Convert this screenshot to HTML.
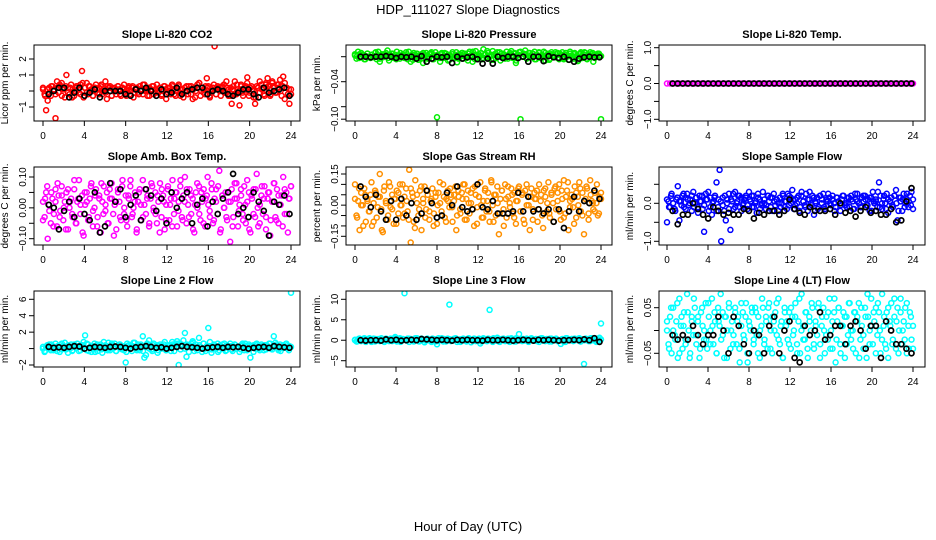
<!DOCTYPE html>
<html><head><meta charset="utf-8"><title>HDP_111027 Slope Diagnostics</title>
<style>html,body{margin:0;padding:0;background:#fff}svg{display:block;font-family:"Liberation Sans",sans-serif}</style>
</head><body>
<svg id="chart" width="936" height="540" viewBox="0 0 936 540" xmlns="http://www.w3.org/2000/svg">
<rect x="0" y="0" width="936" height="540" fill="#fff"/>
<text x="468" y="14" text-anchor="middle" font-size="13">HDP_111027  Slope Diagnostics</text>
<text x="468" y="531" text-anchor="middle" font-size="13">Hour of Day (UTC)</text>
</svg>
<script>
const xTicks=[0,4,8,12,16,20,24];
const co2Vals=[0.1,-0.2,-1.2,-0.6,0.2,-0.3,0.3,0.1,-1.7,0.6,-0.1,0.3,0.5,0.2,-0.4,1.0,0.2,-0.2,0.4,0.1,-0.3,0.2,0.3,-0.1,0.4,1.25,-0.4,0.2,0.5,-0.2,0.3,0.1,-0.3,0.2,0.4,-0.1,0.2,0.3,-0.2,0.1,0.6,-0.5,0.2,0.3,-0.3,0.1,0.2,-0.2,0.3,0.1,-0.3,0.2,0.4,-0.1,0.1,0.3,-0.2,0.2,-0.4,0.1,0.2,-0.1,0.3,0.1,-0.2,0.4,0.1,-0.3,0.2,0.0,0.3,-0.2,0.1,0.4,-0.1,0.2,-0.3,0.1,0.3,-0.5,0.2,0.0,-0.2,0.3,0.1,-0.3,0.2,0.4,-0.1,0.1,-0.4,0.2,0.3,-0.2,0.1,0.3,-0.5,0.2,0.0,0.4,0.5,-0.3,0.2,0.1,-0.2,0.8,0.3,-0.4,0.1,0.2,2.8,-0.2,0.3,0.1,-0.3,0.2,0.4,-0.1,0.2,0.1,-0.3,-0.8,0.3,0.6,-0.2,0.1,-0.9,0.4,-0.1,0.2,0.3,0.85,-0.3,0.2,0.1,-0.4,-0.8,0.3,0.2,-0.1,0.4,0.2,-0.3,0.5,0.8,0.1,-0.2,0.6,0.3,-0.1,0.4,0.2,0.7,-0.3,0.9,0.5,0.2,-0.2,-0.8,0.1];
const co2Vals2=[0.2,-0.3,0.1,-0.1,0.3,0.0,-0.2,0.2,0.4,-0.3,0.1,0.3,-0.1,0.2,-0.4,0.0,0.3,0.1,-0.2,0.5,0.2,-0.1,0.3,0.0,-0.3,0.2,0.1,-0.2,0.4,0.0,-0.1,0.3,0.2,-0.3,0.1,0.0,0.3,-0.2,0.2,0.1,-0.3,0.2,0.0,0.3,-0.1,0.2,-0.2,0.1,0.4,0.0,0.2,-0.3,0.1,0.3,-0.1,0.0,0.2,-0.2,0.3,0.1,-0.1,0.2,0.4,-0.2,0.0,0.3,-0.3,0.1,0.2,0.0,0.3,-0.2,0.1,-0.4,0.2,0.5,0.0,-0.1,0.3,0.2,-0.3,0.1,0.4,-0.2,0.2,0.0,0.3,-0.1,0.6,-0.3,0.2,0.1,-0.2,0.4,0.0,0.3,-0.3,0.2,0.5,-0.1,0.3,0.0,-0.4,0.2,0.6,0.1,-0.2,0.4,0.3,-0.3,0.5,0.2,-0.1,0.4,0.0,0.3,-0.5,0.2,0.1,-0.2];
const co2Black=[-0.2,0.0,0.2,0.2,-0.4,-0.1,0.2,-0.3,-0.1,0.1,-0.4,0.0,0.0,0.0,0.0,-0.2,-0.3,0.1,0.0,0.2,0.0,-0.3,0.1,-0.2,-0.1,0.2,-0.2,0.0,0.1,0.2,0.2,-0.2,0.0,0.1,0.0,-0.2,-0.3,-0.1,0.1,0.1,-0.2,-0.4,0.2,-0.1,0.0,0.1,0.2,-0.3];
const presVals=[0.002,-0.003,0.008,0.004,-0.001,0.003,-0.004,0.001,0.005,0.000,-0.002,0.003,0.001,0.006,-0.004,0.008,-0.008,0.002,-0.001,0.004,0.003,0.010,-0.006,0.001,0.005,-0.002,0.003,0.008,0.000,-0.003,0.002,0.004,-0.001,0.007,-0.004,0.001,-0.008,0.003,0.006,-0.002,0.002,-0.005,0.001,0.004,-0.010,0.003,0.006,-0.003,0.000,0.005,-0.004,0.002,0.007,-0.097,0.001,-0.008,0.004,-0.002,0.006,0.000,0.003,-0.005,0.001,0.007,-0.002,0.002,-0.009,0.004,0.000,0.006,-0.003,0.005,0.001,-0.006,0.008,0.002,-0.008,0.003,0.009,-0.002,0.004,0.001,-0.004,0.012,0.003,-0.001,0.006,0.002,-0.005,0.009,0.003,-0.002,0.007,0.001,-0.006,0.005,0.002,-0.003,0.008,0.001,0.004,0.009,-0.002,0.006,-0.010,0.003,0.007,-0.100,0.001,0.005,0.010,-0.003,0.002,0.006,-0.001,0.004,0.008,-0.004,0.002,0.006,-0.002,0.003,0.008,-0.006,0.001,0.005,-0.003,0.007,0.002,-0.001,0.004,0.006,-0.004,0.002,0.007,-0.002,0.003,0.000,-0.005,0.005,0.002,-0.003,0.006,0.001,-0.007,0.004,0.007,-0.002,0.003,0.006,-0.004,0.002,0.007,0.004,-0.008,0.003,0.001,0.005,0.002,-0.100];
const presVals2=[0.004,0.001,-0.002,0.006,0.002,-0.004,0.005,0.000,0.003,-0.001,0.007,0.002,-0.003,0.004,0.001,0.006,-0.002,0.003,0.005,0.000,-0.004,0.002,0.006,0.001,-0.002,0.004,0.008,0.000,-0.005,0.003,0.005,0.001,-0.003,0.006,0.002,-0.001,0.004,0.007,-0.004,0.002,0.003,-0.002,0.006,0.001,0.005,-0.006,0.002,0.004,0.000,0.007,-0.003,0.003,0.006,0.001,-0.002,0.005,0.002,0.008,-0.004,0.003,0.001,0.006,-0.002,0.004,0.009,0.000,0.003,-0.005,0.005,0.002,0.007,-0.001,0.004,0.001,-0.003,0.006,0.002,0.005,-0.006,0.003,0.008,0.000,0.004,-0.002,0.006,0.001,0.005,-0.004,0.003,0.007,0.002,-0.001,0.006,0.003,-0.005,0.004,0.001,0.007,-0.002,0.005,0.003,-0.004,0.006,0.002,0.008,-0.001,0.004,0.000,-0.006,0.005,0.002,0.007,-0.003,0.004,0.001,0.006,-0.002,0.003,0.005,0.001];
const presBlack=[0.000,0.000,-0.001,0.000,0.000,0.001,0.000,-0.002,0.000,-0.001,0.000,-0.003,0.001,-0.008,-0.003,0.000,-0.001,0.000,-0.010,0.000,-0.003,-0.001,0.000,-0.004,-0.011,-0.003,-0.011,0.000,-0.002,0.000,0.000,-0.002,0.000,-0.008,0.000,0.000,-0.007,0.001,-0.001,-0.002,0.000,-0.005,-0.008,-0.003,-0.001,0.000,-0.001,-0.001];
const tempVals=[0,0,0,0,0,0,0,0,0,0,0,0,0,0,0,0,0,0,0,0,0,0,0,0,0,0,0,0,0,0,0,0,0,0,0,0,0,0,0,0,0,0,0,0,0,0,0,0,0,0,0,0,0,0,0,0,0,0,0,0,0,0,0,0,0,0,0,0,0,0,0,0,0,0,0,0,0,0,0,0];
const tempVals2=[];
const tempBlack=[0,0,0,0,0,0,0,0,0,0,0,0,0,0,0,0,0,0,0,0,0,0,0,0,0,0,0,0,0,0,0,0,0,0,0,0,0,0,0,0,0,0,0,0,0,0,0,0];
const ambVals=[0.02,-0.03,0.05,-0.10,0.01,-0.05,0.03,-0.02,0.06,-0.06,0.04,-0.01,0.07,-0.04,0.02,0.05,-0.07,0.00,0.03,-0.03,0.06,-0.05,0.02,0.09,-0.02,0.04,-0.09,0.01,0.05,-0.04,0.03,0.08,-0.06,0.00,0.06,-0.03,0.04,-0.08,0.02,0.07,-0.01,0.05,-0.05,0.03,0.08,-0.02,0.01,-0.07,0.06,0.02,-0.04,0.09,-0.02,0.04,-0.06,0.03,0.07,-0.03,0.00,0.05,-0.08,0.02,0.06,-0.04,0.09,0.01,-0.02,0.04,-0.06,0.03,0.07,-0.01,0.05,-0.05,0.02,0.08,-0.03,0.04,-0.07,0.01,0.06,-0.04,0.03,0.09,-0.02,0.05,-0.06,0.02,0.07,-0.03,0.04,0.10,-0.05,0.01,0.06,-0.02,0.03,-0.08,0.05,0.00,0.07,-0.04,0.02,0.06,-0.06,0.04,0.01,-0.03,0.08,-0.05,0.03,0.06,-0.02,0.12,-0.07,0.04,0.00,0.05,-0.04,0.02,-0.11,0.06,-0.03,0.03,0.08,-0.06,0.01,0.04,-0.02,0.07,-0.05,0.02,0.05,-0.08,0.03,0.06,-0.03,0.11,-0.06,0.01,0.04,-0.02,0.07,-0.07,0.03,0.05,-0.04,0.02,0.08,-0.03,0.06,-0.05,0.01,0.04,0.10,-0.02,0.05,-0.08,0.03,0.07];
const ambVals2=[-0.04,0.03,0.07,-0.01,0.05,-0.06,0.02,0.08,-0.03,0.04,0.00,-0.07,0.06,0.02,-0.02,0.09,-0.05,0.03,0.01,-0.08,0.05,0.02,-0.03,0.07,-0.01,0.04,-0.06,0.03,0.08,-0.02,0.01,-0.05,0.06,0.03,-0.09,0.02,0.05,-0.03,0.07,0.00,-0.04,0.04,0.09,-0.02,0.02,-0.07,0.05,0.01,-0.03,0.06,0.03,-0.05,0.08,0.00,-0.02,0.04,-0.08,0.06,0.02,-0.04,0.07,0.01,-0.06,0.03,0.05,-0.01,0.09,-0.04,0.02,0.06,-0.03,0.04,-0.07,0.01,0.08,-0.02,0.05,-0.05,0.03,0.10,-0.01,0.06,-0.04,0.02,0.07,-0.08,0.04,0.00,-0.03,0.05,0.02,-0.06,0.08,0.03,-0.01,0.06,-0.04,0.01,0.09,-0.07,0.04,-0.02,0.06,0.00,-0.05,0.07,0.03,-0.03,0.05,-0.09,0.02,0.08,-0.04,0.04,0.01,-0.06,0.06,-0.02,0.03,0.07];
const ambBlack=[0.01,0.00,-0.07,-0.01,0.02,-0.03,0.03,-0.02,-0.04,0.05,-0.08,-0.06,0.08,0.02,0.06,-0.03,0.01,0.04,-0.04,0.06,0.04,-0.01,0.03,-0.05,0.05,0.00,0.03,0.05,-0.05,0.01,0.03,-0.06,0.02,-0.02,0.03,0.05,0.11,-0.02,0.00,-0.03,0.05,0.02,-0.01,-0.09,0.02,0.01,0.04,-0.02];
const rhVals=[0.10,-0.05,0.02,-0.12,0.06,0.00,0.08,-0.08,0.03,-0.03,0.05,-0.10,0.01,0.07,-0.06,0.04,0.15,-0.02,-0.13,0.09,0.02,-0.07,0.11,-0.01,0.05,-0.09,0.03,0.07,-0.04,0.10,0.00,-0.06,0.04,0.08,-0.03,0.17,-0.18,0.06,-0.08,0.12,0.01,-0.05,0.07,-0.12,0.03,0.09,-0.02,0.05,-0.07,0.02,0.08,-0.04,0.04,-0.09,0.06,0.01,-0.03,0.10,-0.06,0.03,0.07,-0.01,0.05,-0.08,0.02,0.09,-0.05,0.04,-0.02,0.06,0.10,-0.07,0.03,0.07,-0.04,0.01,0.08,-0.10,0.05,-0.01,0.04,0.11,-0.06,0.02,0.07,-0.03,0.06,-0.08,0.12,0.00,0.05,-0.05,0.09,-0.14,0.03,0.07,-0.02,0.10,-0.06,0.04,0.01,0.08,-0.04,0.06,-0.09,0.02,0.09,-0.03,0.05,-0.07,0.07,0.00,0.04,-0.12,0.08,-0.02,0.06,0.03,-0.08,0.10,0.02,-0.05,0.07,0.04,-0.03,0.11,-0.06,0.05,0.01,0.08,-0.02,0.06,0.10,-0.07,0.03,0.12,-0.04,0.07,-0.12,0.02,0.05,-0.01,0.09,-0.06,0.04,0.11,-0.03,0.06,-0.14,0.03,0.08,-0.04,0.12,0.02,-0.02,0.06,0.01,-0.05,0.04,0.03];
const rhVals2=[0.03,-0.06,0.08,0.00,-0.10,0.05,0.02,-0.03,0.11,-0.08,0.06,-0.01,0.04,-0.12,0.07,0.01,-0.05,0.09,-0.02,0.03,-0.09,0.06,0.00,0.10,-0.04,0.02,-0.07,0.08,0.04,-0.11,0.05,-0.02,0.09,0.01,-0.06,0.07,-0.03,0.03,-0.10,0.06,0.00,0.11,-0.05,0.04,-0.08,0.02,0.08,-0.01,0.05,-0.12,0.07,-0.04,0.03,0.10,-0.07,0.01,0.06,-0.02,0.09,-0.09,0.04,0.00,-0.06,0.08,0.02,-0.03,0.11,-0.08,0.05,0.01,-0.04,0.07,-0.10,0.03,0.09,-0.01,0.05,-0.06,0.02,0.08,-0.03,0.06,-0.09,0.10,0.00,0.04,-0.07,0.03,0.07,-0.02,0.05,-0.11,0.08,0.01,-0.04,0.06,-0.08,0.09,0.02,-0.03,0.07,-0.06,0.04,0.11,-0.01,0.03,-0.09,0.06,0.00,0.08,-0.05,0.02,0.09,-0.07,0.05,0.01,-0.03,0.10,-0.04,0.06];
const rhBlack=[0.09,0.04,-0.01,0.05,-0.03,-0.07,0.02,-0.07,0.03,-0.05,0.01,-0.07,-0.04,0.07,0.01,-0.06,-0.05,0.06,0.00,0.09,-0.01,-0.03,-0.02,0.10,-0.01,-0.02,0.02,-0.04,-0.04,-0.04,-0.03,0.06,-0.03,0.04,-0.03,-0.02,-0.04,-0.02,-0.08,-0.02,-0.11,-0.03,0.04,-0.03,0.02,0.01,0.07,0.03];
const flowVals=[-0.5,0.05,-0.1,0.25,0.0,-0.15,0.1,0.45,-0.45,0.05,0.2,-0.1,0.15,0.25,-0.05,0.1,-0.2,0.3,0.0,0.15,-0.1,0.2,0.05,-0.15,-0.75,0.25,0.1,-0.2,0.15,-0.3,0.05,0.2,0.55,-0.1,0.88,-1.0,0.15,-0.2,-0.45,0.1,0.25,-0.7,0.05,-0.15,0.3,0.0,0.2,-0.1,0.15,-0.05,0.1,0.2,-0.15,0.3,0.05,-0.1,0.2,0.0,-0.25,0.15,0.1,-0.05,0.3,0.0,-0.15,0.2,0.05,-0.1,0.15,0.25,-0.05,0.1,-0.2,0.15,0.0,0.2,-0.1,0.05,0.25,-0.05,0.15,0.35,-0.15,0.1,0.0,0.2,-0.1,0.3,0.05,-0.05,0.25,-0.2,0.1,0.0,0.2,-0.3,0.05,0.15,-0.1,0.2,0.0,0.25,-0.15,0.1,0.05,0.15,-0.05,0.2,0.0,-0.1,0.15,0.05,-0.2,0.1,0.2,-0.05,0.0,0.15,-0.1,0.2,0.05,-0.15,0.1,0.25,0.0,-0.1,0.15,0.05,0.2,-0.05,0.1,-0.2,0.15,0.3,0.0,0.05,-0.1,0.55,0.2,-0.15,0.1,0.0,0.25,-0.25,0.05,0.15,-0.1,0.2,0.35,-0.45,0.15,0.05,-0.2,0.25,0.0,0.1,-0.1,0.2,0.3,-0.15];
const flowVals2=[0.1,-0.1,0.2,0.0,-0.2,0.15,0.05,-0.05,0.25,-0.15,0.1,0.0,0.2,-0.1,0.15,-0.25,0.05,0.2,-0.05,0.1,0.3,-0.1,0.0,0.15,-0.2,0.1,0.05,-0.05,0.2,0.0,-0.15,0.1,0.25,-0.1,0.05,0.2,-0.2,0.0,0.15,-0.05,0.1,0.2,-0.1,0.05,0.25,-0.15,0.0,0.1,-0.05,0.2,0.15,-0.2,0.05,0.1,0.0,-0.1,0.25,0.05,-0.15,0.2,0.0,0.1,-0.05,0.15,-0.2,0.2,0.05,-0.1,0.1,0.3,-0.05,0.15,0.0,-0.15,0.2,0.1,-0.1,0.05,0.25,0.0,0.1,-0.2,0.15,0.05,-0.05,0.2,0.0,-0.1,0.15,0.1,-0.15,0.25,0.05,0.0,-0.1,0.2,0.1,-0.05,0.15,-0.2,0.05,0.1,0.3,-0.1,0.0,0.2,-0.15,0.1,0.05,-0.05,0.2,0.0,-0.2,0.15,0.1,-0.1,0.25,0.05,-0.05,0.1];
const flowBlack=[-0.2,-0.55,-0.3,-0.3,0.0,-0.15,-0.3,-0.4,-0.1,-0.2,-0.3,-0.25,-0.3,-0.3,-0.15,-0.2,-0.4,-0.25,-0.3,-0.2,-0.2,-0.3,-0.2,0.1,-0.15,-0.25,-0.3,-0.1,-0.2,-0.2,-0.2,-0.15,-0.3,0.0,-0.25,-0.2,-0.35,-0.2,-0.1,-0.25,-0.2,-0.3,-0.3,-0.15,-0.5,-0.45,0.05,0.4];
const line2Vals=[0.0,-0.4,0.2,0.1,0.5,-0.2,0.3,0.0,0.6,-0.3,0.2,0.4,-0.1,0.3,0.7,0.0,-0.5,0.2,0.5,-0.2,0.3,0.1,0.6,-0.3,0.2,0.4,0.8,1.6,-0.2,0.5,0.1,-0.4,0.3,0.6,0.0,-0.3,0.2,0.5,-0.5,0.8,0.3,0.0,0.7,-0.2,0.4,0.1,0.6,-0.3,0.2,0.5,0.0,0.3,-0.2,-1.7,0.6,0.1,0.4,-0.3,0.7,0.2,0.0,0.5,-0.2,0.3,1.5,-1.1,-0.8,0.4,1.0,0.2,-0.3,0.6,0.1,0.4,-0.2,0.5,0.0,0.3,0.8,-0.2,0.4,0.1,-0.3,0.5,0.2,0.6,0.9,-2.0,0.3,0.5,1.0,1.9,-1.0,0.4,0.2,0.6,0.9,-0.3,0.5,0.1,1.3,0.2,-0.4,0.6,0.0,0.3,2.5,0.8,-0.5,0.2,0.4,0.1,0.6,-0.2,0.3,0.5,0.0,-0.3,0.4,0.2,0.6,-0.1,0.3,0.5,0.0,0.2,-0.4,0.4,0.6,-0.2,0.1,0.3,0.5,-1.1,0.2,0.4,0.0,0.6,0.3,-0.2,0.5,0.2,0.4,-0.1,0.3,0.6,0.0,0.2,1.5,0.7,0.3,-0.2,0.5,0.1,0.4,0.2,0.6,0.0,0.3,6.8];
const line2Vals2=[0.2,-0.3,0.4,0.0,0.5,-0.2,0.1,0.3,-0.4,0.6,0.2,-0.1,0.4,0.0,-0.3,0.5,0.1,0.3,-0.2,0.4,0.0,0.6,-0.3,0.2,0.1,-0.4,0.5,0.3,-0.1,0.2,0.4,-0.2,0.0,0.6,0.1,-0.3,0.3,0.5,-0.1,0.2,-0.4,0.4,0.0,0.3,0.7,-0.2,0.1,0.5,-0.3,0.2,0.6,0.0,-0.1,0.4,0.2,-0.5,0.3,0.1,0.5,-0.2,0.0,0.4,0.8,-0.3,0.2,0.6,-0.1,0.3,0.0,0.5,-0.4,0.2,0.7,0.1,-0.2,0.4,0.0,0.6,-0.3,0.2,0.3,-0.1,0.5,0.0,-0.4,0.4,0.2,0.6,-0.2,0.1,0.3,-0.3,0.5,0.0,0.2,-0.1,0.4,0.6,-0.2,0.3,0.1,-0.4,0.5,0.2,0.0,0.3,-0.2,0.4,0.1,0.6,-0.1,0.2,0.5,0.0,-0.3,0.3,0.1,0.4,-0.2,0.2];
const line2Black=[0.2,0.1,0.15,0.1,0.2,0.3,0.25,0.0,0.1,0.2,0.15,0.1,0.2,0.25,0.2,0.1,0.0,0.15,0.2,0.3,0.2,0.1,0.15,0.0,0.1,0.2,0.3,0.2,0.15,0.1,0.0,0.1,0.15,0.2,0.1,0.2,0.15,0.2,0.1,0.0,0.1,0.15,0.2,0.1,0.3,0.2,0.15,0.1];
const line3Vals=[0.0,-0.3,0.2,0.4,-0.2,0.1,0.5,-0.4,0.3,0.0,0.2,-0.1,0.4,-0.3,0.1,0.3,-0.2,0.5,0.0,-0.4,0.3,0.1,-0.2,0.4,0.0,0.2,0.8,-0.3,0.1,0.5,-0.2,0.3,11.5,0.0,0.4,-0.4,0.2,0.1,-0.3,0.5,0.0,0.3,-0.2,0.4,0.1,-0.5,0.2,0.3,0.0,-0.2,0.4,0.1,-0.3,-1.0,0.5,0.2,0.0,-0.3,0.3,0.1,0.4,8.7,-0.2,0.0,0.3,0.5,-0.4,0.1,0.2,-0.1,0.4,0.0,-0.3,0.3,0.2,-0.5,0.1,0.4,-0.2,0.0,0.3,-0.8,0.2,0.5,0.1,-0.2,0.4,7.4,0.0,-0.4,0.3,0.1,0.6,-0.3,0.2,0.0,0.4,-0.2,0.1,0.3,-0.4,0.5,0.0,0.2,-0.3,0.4,1.5,0.1,-0.2,0.3,0.0,0.4,-0.3,0.2,0.5,0.1,-0.1,0.3,0.0,-0.4,0.2,0.5,0.1,-0.2,0.3,0.0,0.4,-0.3,0.2,0.1,0.4,-0.1,0.0,-0.9,0.3,0.2,-0.4,0.5,0.1,0.0,0.3,-0.2,0.4,0.1,0.0,0.5,-0.3,0.2,-5.8,0.4,0.1,0.3,-0.2,0.5,0.0,0.2,-0.4,0.3,0.6,4.1];
const line3Vals2=[0.1,-0.3,0.4,0.0,0.3,-0.2,0.2,0.5,-0.4,0.1,0.3,-0.1,0.2,0.0,-0.3,0.4,0.1,0.2,-0.2,0.5,0.0,0.3,-0.4,0.2,0.1,-0.1,0.4,0.3,-0.2,0.0,0.5,-0.3,0.1,0.2,-0.1,0.4,0.0,-0.4,0.3,0.2,-0.2,0.1,0.5,0.0,-0.3,0.3,0.2,-0.1,0.4,0.1,0.0,-0.4,0.3,0.2,-0.2,0.5,0.1,-0.1,0.3,0.0,0.4,-0.3,0.2,0.1,-0.2,0.3,0.0,0.5,-0.1,0.2,-0.4,0.3,0.1,0.0,0.4,-0.2,0.2,-0.3,0.5,0.1,0.0,0.3,-0.1,0.2,-0.4,0.4,0.1,0.0,-0.2,0.3,0.5,-0.1,0.2,0.0,-0.3,0.4,0.1,0.3,-0.2,0.0,0.2,-0.4,0.5,0.1,0.0,0.3,-0.1,0.2,0.4,-0.3,0.1,0.0,0.3,-0.2,0.5,0.2,-0.1,0.4,0.0,0.2];
const line3Black=[0.0,-0.1,0.0,0.0,-0.1,0.2,0.0,0.1,-0.1,0.0,0.1,0.0,0.3,0.2,0.1,0.0,0.1,0.0,-0.1,0.1,0.0,0.1,0.0,0.0,-0.1,0.1,0.0,0.0,0.1,0.0,-0.1,0.0,0.1,0.0,-0.1,0.1,0.0,0.1,0.0,-0.1,0.0,0.0,0.1,0.0,0.2,0.0,0.5,-0.4];
const line4Vals=[0.00,-0.03,0.03,-0.05,0.05,-0.01,0.02,-0.06,0.07,0.01,-0.04,0.04,-0.02,0.08,0.00,-0.05,0.03,-0.01,0.05,-0.03,0.02,-0.06,0.04,0.01,-0.02,0.06,-0.04,0.03,0.00,0.07,-0.03,0.02,-0.05,0.05,0.01,-0.02,0.04,-0.06,0.03,0.00,0.06,-0.04,0.02,-0.01,0.05,-0.03,0.03,-0.07,0.01,0.04,-0.02,0.06,-0.05,0.02,0.00,0.04,-0.03,0.05,-0.01,0.03,-0.06,0.01,0.05,-0.02,0.03,-0.04,0.06,0.00,-0.05,0.02,0.04,-0.01,0.07,-0.03,0.02,-0.06,0.05,0.01,-0.02,0.04,-0.04,0.03,0.00,0.06,-0.03,0.02,-0.05,0.08,0.01,-0.02,0.04,-0.06,0.03,0.00,0.05,-0.04,0.02,-0.01,0.06,-0.03,0.01,0.05,-0.05,0.03,-0.02,0.07,0.00,-0.04,0.04,-0.07,0.02,0.05,-0.03,0.01,0.04,-0.06,0.03,-0.01,0.06,-0.02,0.00,0.04,-0.05,0.03,0.06,-0.02,0.01,-0.04,0.05,-0.06,0.03,0.00,0.07,-0.03,0.02,0.05,-0.01,0.04,-0.05,0.08,0.01,-0.03,0.04,-0.06,0.02,0.06,-0.02,0.03,-0.04,0.05,0.00,0.07,-0.03,0.02,0.05,-0.05,0.01,0.04,-0.02,-0.04];
const line4Vals2=[0.02,-0.04,0.05,0.00,-0.02,0.06,-0.05,0.03,0.01,-0.03,0.04,-0.06,0.02,0.07,-0.01,0.03,-0.04,0.05,0.00,-0.02,0.06,-0.03,0.01,0.04,-0.05,0.02,0.08,-0.01,0.03,-0.06,0.05,0.00,-0.03,0.04,0.02,-0.04,0.06,-0.01,0.03,-0.07,0.01,0.05,-0.02,0.04,-0.05,0.00,0.07,-0.03,0.02,0.05,-0.04,0.03,0.00,0.06,-0.02,0.01,-0.06,0.04,0.02,-0.03,0.05,-0.01,0.03,-0.05,0.07,0.00,-0.02,0.04,-0.04,0.02,0.06,-0.03,0.01,0.05,-0.06,0.03,0.00,-0.01,0.04,-0.04,0.02,0.07,-0.02,0.05,-0.05,0.01,0.03,-0.03,0.06,0.00,-0.04,0.04,0.02,-0.06,0.05,-0.01,0.03,0.08,-0.03,0.01,0.04,-0.05,0.06,0.00,-0.02,0.03,-0.04,0.05,0.01,-0.03,0.07,0.02,-0.05,0.04,0.00,-0.02,0.06,-0.04,0.03,0.01];
const line4Black=[-0.01,-0.02,-0.01,-0.02,0.01,-0.01,-0.03,-0.01,-0.01,0.03,0.00,-0.05,0.03,0.01,-0.03,-0.05,0.00,-0.01,-0.05,0.01,0.03,-0.05,0.00,0.02,-0.06,-0.07,0.01,-0.01,0.00,0.04,-0.02,-0.01,0.01,0.01,-0.03,0.01,0.02,0.00,-0.04,0.01,0.01,-0.06,0.02,0.00,-0.03,-0.03,-0.04,-0.05];

const svg=document.getElementById('chart');
const NS='http://www.w3.org/2000/svg';
function mk(tag,attrs,parent){const e=document.createElementNS(NS,tag);for(const k in attrs)e.setAttribute(k,attrs[k]);(parent||svg).appendChild(e);return e;}

const cols=[{l:34,r:300,x0:43,x1:291},{l:346,r:612,x0:355,x1:601},{l:659,r:925,x0:667,x1:913}];
const rows=[{t:45,b:121},{t:167,b:245},{t:291,b:367}];

const panels=[
 {name:'co2',title:'Slope Li-820 CO2',ylab:'Licor ppm per min.',c:0,r:0,color:'#ff0000',sets:[co2Vals,co2Vals2],blk:co2Black,yv:[2,1],yp:[59,75],ticks:[-1,0,1,2],labels:[-1,1,2],fmt:v=>String(v).replace('-','\u2212')},
 {name:'pressure',title:'Slope Li-820 Pressure',ylab:'kPa per min.',c:1,r:0,color:'#00ee00',sets:[presVals,presVals2],blk:presBlack,yv:[0,-0.04],yp:[56.7,81.7],ticks:[0,-0.04,-0.08,-0.10],labels:[-0.04,-0.10],fmt:v=>v.toFixed(2).replace('-','\u2212')},
 {name:'li820-temp',title:'Slope Li-820 Temp.',ylab:'degrees C per min.',c:2,r:0,color:'#ff00ff',sets:[tempVals,tempVals2],blk:tempBlack,yv:[1,-1],yp:[47.7,119.3],ticks:[-1,-0.5,0,0.5,1],labels:[-1,0,1],fmt:v=>v.toFixed(1).replace('-','\u2212')},
 {name:'amb-box-temp',title:'Slope Amb. Box Temp.',ylab:'degrees C per min.',c:0,r:1,color:'#ff00ff',sets:[ambVals,ambVals2],blk:ambBlack,yv:[0.1,-0.1],yp:[177,238.7],ticks:[-0.1,-0.05,0,0.05,0.1],labels:[-0.1,0,0.1],fmt:v=>v.toFixed(2).replace('-','\u2212')},
 {name:'gas-stream-rh',title:'Slope Gas Stream RH',ylab:'percent per min.',c:1,r:1,color:'#ff9000',sets:[rhVals,rhVals2],blk:rhBlack,yv:[0.15,-0.15],yp:[174,236.3],ticks:[-0.15,-0.1,-0.05,0,0.05,0.1,0.15],labels:[-0.15,0,0.15],fmt:v=>v.toFixed(2).replace('-','\u2212')},
 {name:'sample-flow',title:'Slope Sample Flow',ylab:'ml/min per min.',c:2,r:1,color:'#0000ff',sets:[flowVals,flowVals2],blk:flowBlack,yv:[0,-1],yp:[203.3,241.3],ticks:[-1,-0.5,0,0.5],labels:[-1,0],fmt:v=>v.toFixed(1).replace('-','\u2212')},
 {name:'line2-flow',title:'Slope Line 2 Flow',ylab:'ml/min per min.',c:0,r:2,color:'#00ffff',sets:[line2Vals,line2Vals2],blk:line2Black,yv:[6,-2],yp:[299.3,365],ticks:[-2,0,2,4,6],labels:[-2,2,4,6],fmt:v=>String(v).replace('-','\u2212')},
 {name:'line3-flow',title:'Slope Line 3 Flow',ylab:'ml/min per min.',c:1,r:2,color:'#00ffff',sets:[line3Vals,line3Vals2],blk:line3Black,yv:[10,-5],yp:[299.3,360.7],ticks:[-5,0,5,10],labels:[-5,0,5,10],fmt:v=>String(v).replace('-','\u2212')},
 {name:'line4-flow',title:'Slope Line 4 (LT) Flow',ylab:'ml/min per min.',c:2,r:2,color:'#00ffff',sets:[line4Vals,line4Vals2],blk:line4Black,yv:[0.05,-0.05],yp:[307.7,353.3],ticks:[-0.05,0,0.05],labels:[-0.05,0.05],fmt:v=>v.toFixed(2).replace('-','\u2212')}
];

panels.forEach(p=>{
  const C=cols[p.c],R=rows[p.r];
  const g=mk('g',{});
  
  
  const xs=h=>C.x0+(C.x1-C.x0)*h/24;
  const ys=v=>p.yp[0]+(v-p.yv[0])*(p.yp[1]-p.yp[0])/(p.yv[1]-p.yv[0]);
  const cl='clip-'+p.name;
  const cp=mk('clipPath',{id:cl},g);mk('rect',{x:C.l,y:R.t,width:C.r-C.l,height:R.b-R.t},cp);
  const pts=mk('g',{'clip-path':'url(#'+cl+')'},g);
  
  
  p.sets.forEach(vals=>{
    const n=vals.length;
    vals.forEach((v,i)=>{
      const h=i*24/(n-1);
      const c=mk('circle',{cx:xs(h).toFixed(1),cy:ys(v).toFixed(1),r:2.5,fill:'none',stroke:p.color,'stroke-width':1.5},pts);
      
      
    });
  });
  const m=p.blk.length;
  p.blk.forEach((v,i)=>{
    const h=0.55+i*(23.3/(m-1));
    const c=mk('circle',{cx:xs(h).toFixed(1),cy:ys(v).toFixed(1),r:2.5,fill:'none',stroke:'#000','stroke-width':1.7},pts);
    
    
  });
  const box=mk('rect',{x:C.l,y:R.t,width:C.r-C.l,height:R.b-R.t,fill:'none',stroke:'#000','stroke-width':1},g);
  
  
  const t=mk('text',{x:(C.l+C.r)/2,y:R.t-7,'text-anchor':'middle','font-size':11,'font-weight':'bold'},g);
  t.textContent=p.title;
  
  
  mk('line',{x1:C.x0,y1:R.b,x2:C.x1,y2:R.b,stroke:'#000','stroke-width':1},g);
  xTicks.forEach(h=>{
    const x=xs(h);
    mk('line',{x1:x,y1:R.b,x2:x,y2:R.b+5,stroke:'#000','stroke-width':1},g);
    const tl=mk('text',{x:x,y:R.b+18,'text-anchor':'middle','font-size':10},g);
    tl.textContent=h;
    
    
  });
  const ymin=Math.min(...p.ticks),ymax=Math.max(...p.ticks);
  mk('line',{x1:C.l,y1:ys(ymin),x2:C.l,y2:ys(ymax),stroke:'#000','stroke-width':1},g);
  p.ticks.forEach(v=>{const y=ys(v);mk('line',{x1:C.l-5,y1:y,x2:C.l,y2:y,stroke:'#000','stroke-width':1},g);});
  p.labels.forEach(v=>{
    const y=ys(v),x=C.l-8;
    const tl=mk('text',{x:x,y:y,'text-anchor':'middle','font-size':10,transform:'rotate(-90 '+x+' '+y+')'},g);
    tl.textContent=p.fmt(v);
    
    
  });
  const ax=C.l-26,ay=(R.t+R.b)/2;
  const yl=mk('text',{x:ax,y:ay,'text-anchor':'middle','font-size':10,transform:'rotate(-90 '+ax+' '+ay+')'},g);
  yl.textContent=p.ylab;
  
  
});
</script>
</body></html>
